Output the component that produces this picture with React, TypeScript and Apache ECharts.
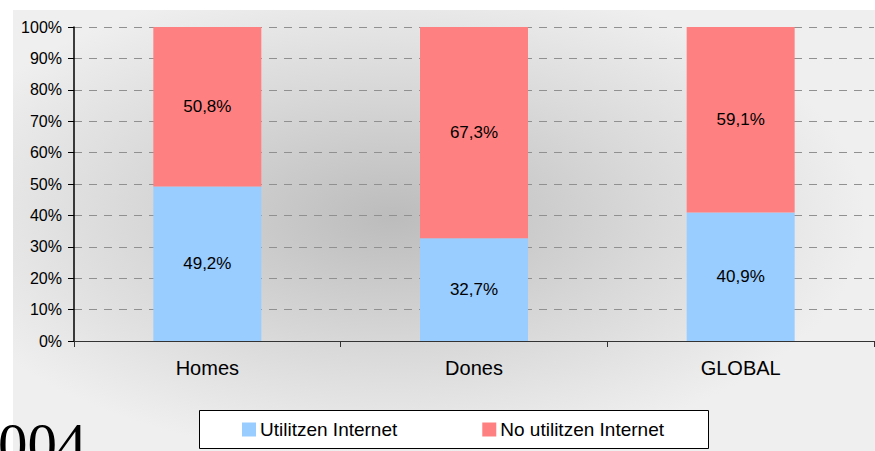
import React, { useEffect, useRef } from "react";
import * as echarts from "echarts";

const categories = ["Homes", "Dones", "GLOBAL"];
const usersValues = [49.2, 32.7, 40.9];
const nonUsersValues = [50.8, 67.3, 59.1];
const seriesNames = ["Utilitzen Internet", "No utilitzen Internet"];
const cornerText = "004";

const FONT = "'Liberation Sans', Arial, sans-serif";

const fmt = (v: number) => v.toFixed(1).replace(".", ",") + "%";

export default function App() {
  const ref = useRef<HTMLDivElement>(null);
  useEffect(() => {
    document.body.style.margin = "0";
    if (!ref.current) return;
    const chart = echarts.init(ref.current, null, { renderer: "svg" });
    chart.setOption({
      animation: false,
      textStyle: { fontFamily: FONT },
      graphic: [
        {
          type: "rect",
          z: -10,
          silent: true,
          shape: { x: 13, y: 10, width: 862, height: 441 },
          style: {
            fill: new echarts.graphic.RadialGradient(0.44, 0.47, 0.55, [
              { offset: 0, color: "#bcbcbc" },
              { offset: 0.55, color: "#d9d9d9" },
              { offset: 1, color: "#efefef" },
            ]),
          },
        },
        {
          type: "rect",
          z: 1,
          silent: true,
          shape: { x: 199.5, y: 410.5, width: 509, height: 38 },
          style: { fill: "#ffffff", stroke: "#000000", lineWidth: 1 },
        },
        {
          type: "text",
          z: 1,
          silent: true,
          x: -2,
          y: 444,
          style: {
            text: cornerText,
            fontFamily: "'Liberation Serif', 'Times New Roman', serif",
            fontSize: 59,
            fill: "#000000",
            verticalAlign: "middle",
            align: "left",
          },
        },
      ],
      legend: {
        left: 242,
        top: 420,
        padding: 0,
        itemWidth: 14,
        itemHeight: 14,
        itemGap: 85,
        icon: "rect",
        textStyle: { fontSize: 19, color: "#000", fontFamily: FONT, padding: [0, 0, 0, -1] },
        data: seriesNames,
      },
      grid: { left: 74, right: 1, top: 27, bottom: 110, containLabel: false },
      xAxis: {
        type: "category",
        data: categories,
        axisLine: { lineStyle: { color: "#333", width: 1 } },
        axisTick: { show: true, length: 6, lineStyle: { color: "#333" } },
        axisLabel: { fontSize: 20, color: "#000", margin: 17, fontFamily: FONT },
      },
      yAxis: {
        type: "value",
        min: 0,
        max: 100,
        interval: 10,
        axisLine: { show: true, lineStyle: { color: "#000", width: 1.5 } },
        axisTick: { show: true, length: 6, lineStyle: { color: "#000" } },
        axisLabel: { fontSize: 16, color: "#000", margin: 12, formatter: "{value}%", fontFamily: FONT },
        splitLine: { show: true, lineStyle: { color: "#909090", type: [8, 7], width: 1 } },
      },
      series: [
        {
          name: seriesNames[0],
          type: "bar",
          stack: "total",
          barWidth: "40.5%",
          data: usersValues,
          itemStyle: { color: "#99ccff" },
          label: {
            show: true,
            position: "inside",
            color: "#000",
            fontSize: 17,
            fontFamily: FONT,
            formatter: (p: any) => fmt(p.value),
          },
        },
        {
          name: seriesNames[1],
          type: "bar",
          stack: "total",
          barWidth: "40.5%",
          data: nonUsersValues,
          itemStyle: { color: "#ff8080" },
          label: {
            show: true,
            position: "inside",
            color: "#000",
            fontSize: 17,
            fontFamily: FONT,
            formatter: (p: any) => fmt(p.value),
          },
        },
      ],
    });
    return () => chart.dispose();
  }, []);
  return <div ref={ref} style={{ width: 875, height: 451 }} />;
}
